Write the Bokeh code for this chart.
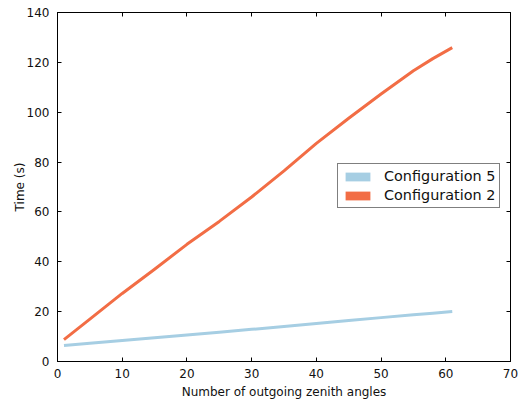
from bokeh.plotting import figure
from bokeh.models import (Range1d, LinearAxis, Legend, LegendItem,
                          SingleIntervalTicker, ColumnDataSource,
                          CustomJSTickFormatter)
from bokeh.embed import file_html
from bokeh.resources import INLINE

# ---- data ----
angles = [1, 5, 10, 15, 20, 25, 30, 35, 40, 45, 50, 55, 58, 61]
config5 = [6.4, 7.3, 8.4, 9.5, 10.6, 11.7, 12.9, 14.0, 15.2, 16.4, 17.6, 18.8, 19.4, 20.1]
config2 = [8.8, 17.0, 27.3, 37.0, 47.0, 56.2, 66.0, 76.5, 87.5, 97.6, 107.3, 116.6, 121.5, 125.9]
series_names = ["Configuration 5", "Configuration 2"]
colors = ["#a6cee3", "#f26d45"]
x_ticks_step = 10
y_ticks_step = 20

FONT = "DejaVu Sans"

p = figure(width=519, height=401,
           x_range=Range1d(0, 70), y_range=Range1d(0, 140),
           output_backend="svg", toolbar_location=None,
           min_border_left=57, min_border_right=9,
           min_border_top=12, min_border_bottom=39)

p.background_fill_color = "white"
p.border_fill_color = "white"
p.grid.visible = False
p.outline_line_color = "black"
p.outline_line_width = 1

def style_axis(ax):
    ax.axis_line_color = "black"
    ax.major_tick_line_color = "black"
    ax.major_tick_in = 4
    ax.major_tick_out = 0
    ax.minor_tick_line_color = None
    ax.major_label_text_font = FONT
    ax.major_label_text_color = "#111111"
    ax.major_label_text_font_size = "12px"
    ax.axis_label_text_font = FONT
    ax.axis_label_text_font_size = "12px"
    ax.axis_label_text_font_style = "normal"
    ax.axis_label_text_color = "#111111"

p.xaxis.ticker = SingleIntervalTicker(interval=x_ticks_step)
p.yaxis.ticker = SingleIntervalTicker(interval=y_ticks_step)
style_axis(p.xaxis[0])
style_axis(p.yaxis[0])
p.xaxis.axis_label = "Number of outgoing zenith angles"
p.yaxis.axis_label = "Time (s)"
p.xaxis.major_label_standoff = 3
p.xaxis.axis_label_standoff = 4
p.yaxis.major_label_standoff = 4
p.yaxis.axis_label_standoff = -3

blank = CustomJSTickFormatter(code="return '';")
top_ax = LinearAxis(ticker=SingleIntervalTicker(interval=x_ticks_step), formatter=blank)
right_ax = LinearAxis(ticker=SingleIntervalTicker(interval=y_ticks_step), formatter=blank)
for ax in (top_ax, right_ax):
    style_axis(ax)
    ax.major_label_standoff = 0
p.add_layout(top_ax, "above")
p.add_layout(right_ax, "right")

src = ColumnDataSource(dict(x=angles, c5=config5, c2=config2))
p.line("x", "c5", source=src, line_color=colors[0], line_width=3, line_join="round")
p.line("x", "c2", source=src, line_color=colors[1], line_width=3, line_join="round")

# legend swatches: zero-area quads on the data (invisible on the plot)
items = []
for name, col, key in zip(series_names, colors, ["c5", "c2"]):
    r = p.quad(left="x", right="x", top=key, bottom=key, source=src,
               fill_color=col, line_color=col, line_alpha=0)
    items.append(LegendItem(label=name, renderers=[r], index=0))

legend = Legend(items=items, location=(280, 153), margin=0,
                padding=4, spacing=3,
                glyph_width=31, glyph_height=11, label_height=16,
                label_standoff=11,
                label_text_font=FONT, label_text_font_size="14.4px",
                label_text_color="#111111",
                border_line_color="black", border_line_width=1,
                background_fill_color="white", background_fill_alpha=1)
p.add_layout(legend, "center")

open("out.html", "w").write(file_html(p, INLINE))
